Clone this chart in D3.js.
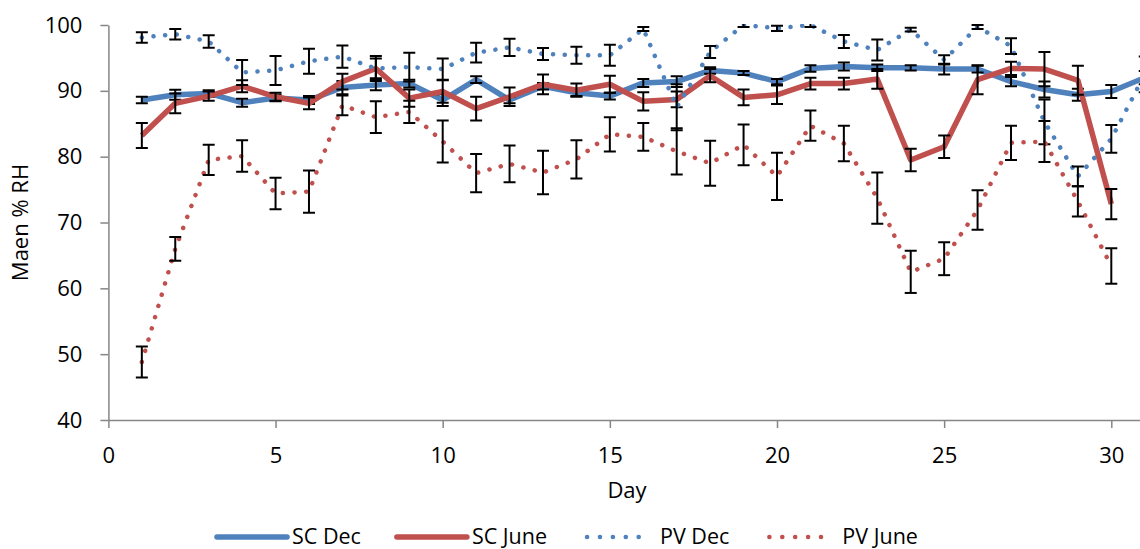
<!DOCTYPE html>
<html>
<head>
<meta charset="utf-8">
<script src="https://cdn.jsdelivr.net/npm/d3@7"></script>
<style>
  body { margin: 0; background: #fff; }
  text { font-family: "Open Sans", sans-serif; fill: #000; }
</style>
</head>
<body>
<div id="chart"></div>
<script>
const width = 1140;
const height = 549;

// days of each month
const daysDec = d3.range(1, 32);
const daysJune = d3.range(1, 31);

// mean % RH
const scDec = [88.6, 89.4, 89.6, 88.2, 88.9, 88.6, 90.5, 90.9, 91.1, 88.6, 91.7, 88.6, 90.7, 89.7, 89.2, 91.2,
  91.4, 93.1, 92.7, 91.4, 93.4, 93.7, 93.5, 93.5, 93.3, 93.3, 91.4, 90.2, 89.4, 89.9, 92.0];
const scJune = [83.2, 88.1, 89.2, 90.7, 89.1, 88.1, 91.4, 93.4, 88.9, 89.9, 87.3, 89.1, 91.0, 90.1, 91.0,
  88.4, 88.7, 92.3, 89.0, 89.4, 91.1, 91.1, 91.8, 79.5, 81.5, 91.7, 93.4, 93.3, 91.6, 72.8];
const pvDec = [98.1, 98.6, 97.5, 92.8, 93.1, 94.5, 95.2, 93.4, 93.6, 93.3, 95.8, 96.6, 95.6, 95.4, 95.4, 99.4,
  87.5, 95.9, 100.0, 99.5, 100.0, 97.5, 96.2, 99.3, 94.7, 99.7, 96.8, 85.3, 77.0, 82.7, 92.5];
const pvJune = [48.8, 66.0, 79.5, 80.1, 74.4, 74.7, 87.8, 86.0, 86.8, 82.3, 77.5, 78.9, 77.6, 79.6, 83.4,
  83.0, 80.8, 79.0, 81.8, 77.0, 84.7, 82.0, 73.7, 62.5, 64.5, 71.9, 82.1, 82.3, 73.2, 63.4];

// error bar half lengths
const scDecErr = [0.5, 0.75, 0.5, 0.6, 0.5, 0.6, 1.0, 0.8, 0.6, 0.9, 0.5, 0.5, 0.5, 0.5, 0.5, 0.6, 0.8, 0.5,
  0.3, 0.4, 0.5, 0.6, 0.5, 0.4, 0.8, 0.5, 0.7, 1.2, 0.9, 1.0, 1.0];
const scJuneErr = [1.9, 1.5, 0.7, 0.9, 0.6, 0.9, 1.2, 1.9, 1.3, 1.7, 1.8, 1.4, 1.5, 1.0, 1.3, 1.4, 1.2, 1.0,
  1.2, 1.4, 0.9, 0.9, 1.5, 1.7, 1.7, 2.2, 1.0, 2.6, 2.2, 2.3];
const pvDecErr = [0.8, 0.8, 0.95, 1.9, 2.2, 1.9, 1.7, 1.5, 2.2, 1.6, 1.5, 1.3, 0.9, 1.3, 1.6, 0.3, 3.5, 0.9,
  0.3, 0.4, 0.3, 1.0, 1.6, 0.3, 0.7, 0.3, 1.2, 3.4, 1.5, 2.1, 2.7];
const pvJuneErr = [2.35, 1.8, 2.3, 2.4, 2.4, 3.2, 1.5, 2.4, 1.7, 3.2, 2.9, 2.8, 3.3, 2.9, 2.6, 2.1, 3.5, 3.4,
  3.1, 3.6, 2.3, 2.7, 3.9, 3.2, 2.5, 3.0, 2.6, 3.1, 2.3, 2.7];

const seriesNames = ["SC Dec", "SC June", "PV Dec", "PV June"];
const xTicks = [0, 5, 10, 15, 20, 25, 30];
const yTicks = [40, 50, 60, 70, 80, 90, 100];

const blue = "#4f81bd";
const red = "#c0504d";
const axisGrey = "#868686";

const series = [
  {name: seriesNames[0], days: daysDec, vals: scDec, err: scDecErr, color: blue, dotted: false},
  {name: seriesNames[1], days: daysJune, vals: scJune, err: scJuneErr, color: red, dotted: false},
  {name: seriesNames[2], days: daysDec, vals: pvDec, err: pvDecErr, color: blue, dotted: true},
  {name: seriesNames[3], days: daysJune, vals: pvJune, err: pvJuneErr, color: red, dotted: true}
];

const x = d3.scaleLinear().domain([0, 31]).range([108.4, 108.4 + 31 * 33.43]);
const y = d3.scaleLinear().domain([40, 100]).range([420, 25]);

const svg = d3.select("#chart")
  .append("svg")
  .attr("width", width)
  .attr("height", height);

svg.append("defs").append("clipPath").attr("id", "plotclip")
  .append("rect")
  .attr("x", x(0)).attr("y", y(100) - 1)
  .attr("width", width - x(0)).attr("height", y(40) - y(100) + 1);

// axes
const xAxis = svg.append("g")
  .attr("transform", `translate(0,${y(40)})`)
  .call(d3.axisBottom(x).tickValues(xTicks).tickSize(8).tickSizeOuter(0).tickPadding(19));
const yAxis = svg.append("g")
  .attr("transform", `translate(${x(0)},0)`)
  .call(d3.axisLeft(y).tickValues(yTicks).tickSize(8).tickSizeOuter(0).tickPadding(18));

[xAxis, yAxis].forEach(a => {
  a.select(".domain").attr("stroke", axisGrey).attr("stroke-width", 1.5);
  a.selectAll(".tick line").attr("stroke", axisGrey).attr("stroke-width", 1.5);
  a.selectAll(".tick text").attr("font-size", 22).attr("fill", "#000")
    .style("font-family", "'Open Sans', sans-serif");
});

svg.append("text")
  .attr("x", 627).attr("y", 498)
  .attr("text-anchor", "middle")
  .attr("font-size", 22)
  .text("Day");

svg.append("text")
  .attr("transform", `translate(28,${(y(40) + y(100)) / 2}) rotate(-90)`)
  .attr("text-anchor", "middle")
  .attr("font-size", 22)
  .text("Maen % RH");

// series with error bars
const plot = svg.append("g").attr("clip-path", "url(#plotclip)");
const line = d3.line().x(d => x(d[0])).y(d => y(d[1]));

series.forEach(s => {
  const pts = s.days.map((d, i) => [d, s.vals[i], s.err[i]]);
  const g = plot.append("g");
  const p = g.append("path")
    .datum(pts)
    .attr("d", line)
    .attr("fill", "none")
    .attr("stroke", s.color)
    .attr("stroke-linejoin", "round");
  if (s.dotted) {
    p.attr("stroke-width", 4.5).attr("stroke-dasharray", "0.1 11.6").attr("stroke-linecap", "round");
  } else {
    p.attr("stroke-width", 5.5).attr("stroke-linecap", "butt");
  }

  const eb = g.selectAll(".eb").data(pts).enter().append("g").attr("class", "eb");
  eb.append("line")
    .attr("x1", d => x(d[0])).attr("x2", d => x(d[0]))
    .attr("y1", d => y(d[1] + d[2])).attr("y2", d => y(d[1] - d[2]));
  eb.append("line")
    .attr("x1", d => x(d[0]) - 6).attr("x2", d => x(d[0]) + 6)
    .attr("y1", d => y(d[1] + d[2])).attr("y2", d => y(d[1] + d[2]));
  eb.append("line")
    .attr("x1", d => x(d[0]) - 6).attr("x2", d => x(d[0]) + 6)
    .attr("y1", d => y(d[1] - d[2])).attr("y2", d => y(d[1] - d[2]));
  eb.selectAll("line").attr("stroke", "#000").attr("stroke-width", 2);
});

// legend
const legend = svg.append("g").attr("id", "legend");
let lx = 217;
series.forEach(s => {
  const ly = 537;
  const l = legend.append("line")
    .attr("x1", lx).attr("x2", lx + 70)
    .attr("y1", ly).attr("y2", ly)
    .attr("stroke", s.color);
  if (s.dotted) {
    l.attr("stroke-width", 4.5).attr("stroke-dasharray", "0.1 12.8").attr("stroke-linecap", "round")
      .attr("x1", lx + 4).attr("x2", lx + 68);
  } else {
    l.attr("stroke-width", 5.5).attr("stroke-linecap", "round");
  }
  const t = legend.append("text")
    .attr("x", lx + (s.dotted ? 77 : 75)).attr("y", ly + 7)
    .attr("font-size", 21.5)
    .text(s.name);
  lx += (s.dotted ? 77 : 75) + t.node().getComputedTextLength() + 36;
});
</script>
</body>
</html>
